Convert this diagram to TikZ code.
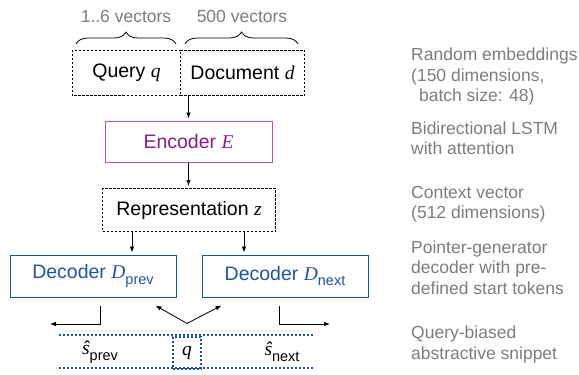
\documentclass[tikz,border=0pt]{standalone}
\usepackage{fontspec}
\setmainfont{Liberation Sans}
\newfontfamily\seriffam{Liberation Serif}
\usetikzlibrary{arrows.meta,decorations.pathreplacing,calc}
\newcommand{\vi}[1]{{\seriffam\itshape #1}}
\newcommand{\lowsub}[1]{\raisebox{-0.3em}{\fontsize{14.5}{14.5}\selectfont #1}}
\definecolor{encpurple}{RGB}{140,28,138}
\definecolor{encborder}{RGB}{178,88,176}
\definecolor{decblue}{RGB}{31,84,164}
\definecolor{notegray}{RGB}{125,125,125}
\begin{document}
\begin{tikzpicture}[x=1pt,y=-1pt,
  mainfont/.style={font=\fontsize{19.5}{22}\selectfont},
  dashpat/.style={draw=black, line width=1pt, dash pattern=on 2.2pt off 1.8pt},
  dbox/.style={dashpat, inner sep=0pt, mainfont},
  encbox/.style={draw=encborder, line width=1pt, text=encpurple, inner sep=0pt, mainfont},
  decbox/.style={draw=decblue, line width=1pt, text=decblue, inner sep=0pt, mainfont},
  arr/.style={-{Latex[length=6pt,width=4.5pt]}, line width=0.8pt, shorten >=2pt},
  darr/.style={{Latex[length=6pt,width=4.5pt]}-{Latex[length=6pt,width=4.5pt]}, line width=0.8pt},
  snip/.style={draw=decblue, line width=1.1pt, dash pattern=on 2.2pt off 1.8pt},
  lbl/.style={text=notegray, font=\fontsize{17.5}{20}\selectfont, inner sep=0pt},
  note/.style={text=notegray, font=\fontsize{17.5}{20.5}\selectfont, align=left, anchor=west, inner sep=0pt},
  brc/.style={decorate, decoration={brace, amplitude=12pt}, line width=0.8pt}
]
\useasboundingbox (0,0) rectangle (579,375);

% top labels and braces
\node[lbl] (l1) at (126,16) {1..6 vectors};
\node[lbl] (l2) at (242,16) {500 vectors};
\draw[brc] (76,44) -- (176,44);
\draw[brc] (185,44) -- (298,44);

% input boxes
\node[inner sep=0pt, mainfont, minimum width=108pt, minimum height=45pt] (query) at (126.5,73) {Query \vi{q}};
\node[inner sep=0pt, mainfont, minimum width=124pt, minimum height=45pt] (doc) at (242.5,73) {Document \vi{d}};
\draw[dashpat] (query.north east) -- (query.north west) -- (query.south west) -- (query.south east) -- cycle;
\draw[dashpat] (doc.south west) -- (doc.south east) -- (doc.north east) -- (doc.north west);

% encoder
\node[encbox, minimum width=167pt, minimum height=41pt] (enc) at (188.5,141.5) {Encoder \vi{E}};
\draw[arr] (enc.north |- doc.south) -- (enc.north);

% representation
\node[dbox, minimum width=173pt, minimum height=43pt] (repr) at (189,210) {Representation \vi{z}};
\draw[arr] (enc.south) -- (enc.south |- repr.north);

% decoders
\node[decbox, minimum width=166pt, minimum height=42pt] (dprev) at (93,276) {Decoder \vi{D}\lowsub{prev}};
\node[decbox, minimum width=166pt, minimum height=42pt] (dnext) at (285,276) {Decoder \vi{D}\lowsub{next}};
\coordinate (r1) at ($(repr.south west)+(30,0)$);
\coordinate (r2) at ($(repr.south east)+(-32,0)$);
\draw[arr] (r1) -- (r1 |- dprev.north);
\draw[arr] (r2) -- (r2 |- dnext.north);

% snippet row
\draw[snip] (59,335) -- (313,335);
\draw[snip] (59,368) -- (313,368);
\node[snip, minimum width=28pt, minimum height=32pt, inner sep=0pt, font=\fontsize{19.5}{22}\selectfont] (qs) at (187,353) {\vi{q}};
\node[font=\fontsize{19.5}{22}\selectfont, inner sep=0pt] (sprev) at (100,352) {\vi{\^{s}}\lowsub{prev}};
\node[font=\fontsize{19.5}{22}\selectfont, inner sep=0pt] (snext) at (282,352) {\vi{\^{s}}\lowsub{next}};

% output connectors
\coordinate (pl) at (50,324);
\coordinate (nr) at (330,324);
\coordinate (apex) at ($(qs.north)+(0,-13)$);
\coordinate (vl) at ($(dprev.south east)+(-21,8)$);
\coordinate (vr) at ($(dnext.south west)+(20,8)$);
\coordinate (ps) at ($(dprev.south)+(7,8)$);
\coordinate (ns) at ($(dnext.south)+(-6,8)$);
\draw[arr, shorten >=0pt] (ps) |- (pl);
\draw[arr, shorten >=0pt] (ns) |- (nr);
\draw[darr] (vl) -- (apex) -- (vr);

% notes
\node[note] (n1) at (411,76.5) {Random embeddings\\(150 dimensions,\\\hspace*{0.45em}batch size: 48)};
\node[note] (n2) at (411,138) {Bidirectional LSTM\\with attention};
\node[note] (n3) at (411,204) {Context vector\\(512 dimensions)};
\node[note] (n4) at (411,267.5) {Pointer-generator\\decoder with pre-\\defined start tokens};
\node[note] (n5) at (411,344.5) {Query-biased\\abstractive snippet};
\end{tikzpicture}
\end{document}
